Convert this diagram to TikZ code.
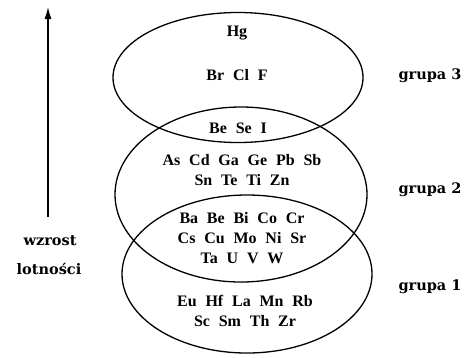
\documentclass[tikz,border=0pt]{standalone}
\usepackage{fontspec}
\setmainfont{Liberation Serif}
\newfontfamily\labfont{DejaVu Serif}
\usetikzlibrary{arrows.meta}
\newcommand{\gp}{\hspace{0.55em}}
\begin{document}
\begin{tikzpicture}[x=1pt,y=-1pt,
  ell/.style={draw, line width=1.3pt},
  el/.style={font=\bfseries\fontsize{16}{17}\selectfont, inner sep=0pt},
  lab/.style={font=\labfont\bfseries\fontsize{14.5}{15}\selectfont, inner sep=0pt}]
\useasboundingbox (0,0) rectangle (470,357);
\draw[ell] (238,77.5) ellipse [x radius=125, y radius=65];
\draw[ell] (241,194.5) ellipse [x radius=126, y radius=87.5];
\draw[ell] (247,274) ellipse [x radius=125, y radius=79];
\node[el] (hg) at (237,33) {Hg};
\node[el] (brclf) at (237,75) {Br\gp Cl\gp F};
\node[el] (besei) at (238,128) {Be\gp Se\gp I};
\node[el] (g2a) at (242,160) {As\gp Cd\gp Ga\gp Ge\gp Pb\gp Sb};
\node[el] (g2b) at (242,180) {Sn\gp Te\gp Ti\gp Zn};
\node[el] (g12a) at (242,218) {Ba\gp Be\gp Bi\gp Co\gp Cr};
\node[el] (g12b) at (242,238) {Cs\gp Cu\gp Mo\gp Ni\gp Sr};
\node[el] (g12c) at (242,258) {Ta\gp U\gp V\gp W};
\node[el] (g1a) at (245,301) {Eu\gp Hf\gp La\gp Mn\gp Rb};
\node[el] (g1b) at (245,321) {Sc\gp Sm\gp Th\gp Zr};
\node[lab] (gr3) at (430,76) {grupa 3};
\node[lab] (gr2) at (430,190) {grupa 2};
\node[lab] (gr1) at (430,287) {grupa 1};
\node[lab] (w1) at (50,241) {wzrost};
\node[lab] (w2) at (49,269) {lotności};
\coordinate (abot) at (48,217);
\coordinate (atop) at (48,7);
\draw[line width=1.3pt, -{Latex[length=12pt,width=7pt]}] (abot) -- (atop);
\end{tikzpicture}
\end{document}
